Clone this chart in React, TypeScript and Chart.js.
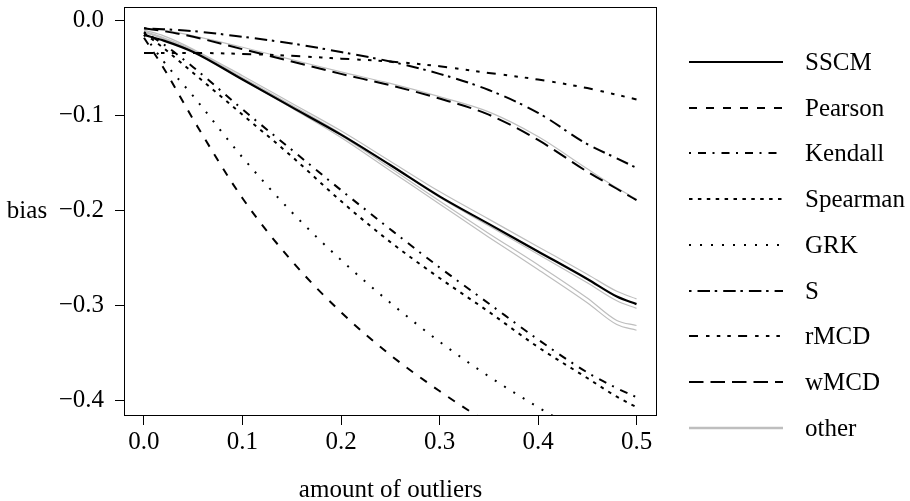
import React, { useEffect, useRef } from "react";
import { Chart, registerables } from "chart.js";

Chart.register(...registerables);

// ---- data ----
const xValues = [0, 0.02, 0.05, 0.1, 0.15, 0.2, 0.25, 0.3, 0.35, 0.4, 0.45, 0.48, 0.5];

const sscm = [-0.015, -0.021, -0.033, -0.062, -0.091, -0.12, -0.152, -0.185, -0.214, -0.243, -0.272, -0.2905, -0.2985];
const pearson = [-0.018, -0.05, -0.104, -0.187, -0.253, -0.307, -0.352, -0.39, -0.424, -0.455, -0.482, -0.497, -0.507];
const kendall = [-0.012, -0.025, -0.049, -0.0934, -0.136, -0.1784, -0.2196, -0.2598, -0.2978, -0.3357, -0.3704, -0.387, -0.3965];
const spearman = [-0.013, -0.029, -0.055, -0.099, -0.143, -0.19, -0.233, -0.271, -0.3065, -0.3437, -0.3763, -0.396, -0.407];
const grk = [-0.015, -0.043, -0.0795, -0.144, -0.2016, -0.252, -0.297, -0.338, -0.3745, -0.407, -0.437, -0.454, -0.465];
const sEst = [-0.008, -0.009, -0.011, -0.017, -0.024, -0.033, -0.043, -0.056, -0.073, -0.097, -0.13, -0.145, -0.155];
const rmcd = [-0.034, -0.034, -0.034, -0.035, -0.037, -0.04, -0.043, -0.048, -0.055, -0.062, -0.071, -0.078, -0.083];
const wmcd = [-0.008, -0.011, -0.017, -0.03, -0.043, -0.056, -0.068, -0.082, -0.099, -0.1256, -0.159, -0.177, -0.189];

const other1 = [-0.01, -0.016, -0.03, -0.058, -0.087, -0.116, -0.148, -0.18, -0.209, -0.238, -0.267, -0.285, -0.293];
const other2 = [-0.011, -0.018, -0.031, -0.06, -0.089, -0.119, -0.152, -0.186, -0.216, -0.246, -0.276, -0.295, -0.303];
const other3 = [-0.012, -0.019, -0.032, -0.061, -0.09, -0.121, -0.155, -0.19, -0.224, -0.257, -0.292, -0.3157, -0.321];
const other4 = [-0.012, -0.019, -0.033, -0.062, -0.092, -0.123, -0.158, -0.193, -0.228, -0.262, -0.297, -0.32, -0.326];
const other5 = [-0.008, -0.01, -0.016, -0.028, -0.041, -0.054, -0.066, -0.08, -0.096, -0.122, -0.156, -0.176, -0.188];

const xTicks = [0, 0.1, 0.2, 0.3, 0.4, 0.5];
const xTickLabels = ["0.0", "0.1", "0.2", "0.3", "0.4", "0.5"];
const yTicks = [0, -0.1, -0.2, -0.3, -0.4];
const yTickLabels = ["0.0", "\u22120.1", "\u22120.2", "\u22120.3", "\u22120.4"];

const xTitle = "amount of outliers";
const yTitle = "bias";

const legendLabels = ["SSCM", "Pearson", "Kendall", "Spearman", "GRK", "S", "rMCD", "wMCD", "other"];

// ---- styles ----
const FONT = "'Liberation Serif', 'DejaVu Serif', serif";
const FONT_SIZE = 25;
const BLACK = "#000000";
const GREY = "#bebebe";

const dashes: Record<string, number[]> = {
  SSCM: [],
  Pearson: [8, 9],
  Kendall: [2, 7, 8, 6.5],
  Spearman: [3.5, 5.4],
  GRK: [2, 9],
  S: [2.5, 6, 12.5, 4.7],
  rMCD: [9, 8, 3.5, 7.3, 3.5, 7, 3.5, 7.3],
  wMCD: [14.5, 7],
  other: [],
};

const pts = (ys: number[]) => xValues.map((x, i) => ({ x, y: ys[i] }));

function mainDs(label: string, ys: number[], width: number) {
  return {
    label,
    data: pts(ys),
    borderColor: BLACK,
    borderWidth: width,
    borderDash: dashes[label],
    borderCapStyle: "butt" as const,
    cubicInterpolationMode: "monotone" as const,
    pointRadius: 0,
    fill: false,
  };
}
function greyDs(ys: number[]) {
  return {
    label: "other",
    data: pts(ys),
    borderColor: GREY,
    borderWidth: 1.2,
    borderDash: [],
    cubicInterpolationMode: "monotone" as const,
    pointRadius: 0,
    fill: false,
  };
}

const decorPlugin = {
  id: "decor",
  afterDraw(chart: any) {
    const { ctx, chartArea: a } = chart;
    ctx.save();
    // box
    ctx.setLineDash([]);
    ctx.strokeStyle = BLACK;
    ctx.lineWidth = 1;
    ctx.strokeRect(a.left + 0.5, a.top + 0.5, a.right - a.left - 1, a.bottom - a.top - 1);
    // y title (horizontal)
    ctx.font = `${FONT_SIZE}px ${FONT}`;
    ctx.fillStyle = BLACK;
    ctx.textAlign = "center";
    ctx.textBaseline = "middle";
    ctx.fillText(yTitle, 27, (a.top + a.bottom) / 2);
    // legend
    const x0 = 689, x1 = 783, tx = 805, y0 = 61.7, dy = 45.8;
    legendLabels.forEach((lab, i) => {
      const y = Math.round(y0 + i * dy);
      ctx.beginPath();
      ctx.setLineDash(dashes[lab]);
      ctx.lineWidth = lab === "other" ? 2.5 : 2.2;
      ctx.strokeStyle = lab === "other" ? GREY : BLACK;
      ctx.moveTo(x0, y);
      ctx.lineTo(x1, y);
      ctx.stroke();
      ctx.setLineDash([]);
      ctx.textAlign = "left";
      ctx.fillStyle = BLACK;
      ctx.fillText(lab, tx, y + 1);
    });
    ctx.restore();
  },
};

export default function App() {
  const ref = useRef<HTMLCanvasElement | null>(null);
  useEffect(() => {
    if (!ref.current) return;
    Chart.defaults.font.family = FONT;
    const chart = new Chart(ref.current, {
      type: "line",
      data: {
        datasets: [
          mainDs("SSCM", sscm, 2.2),
          mainDs("Pearson", pearson, 2),
          mainDs("Kendall", kendall, 2),
          mainDs("Spearman", spearman, 2),
          mainDs("GRK", grk, 2),
          mainDs("S", sEst, 2),
          mainDs("rMCD", rmcd, 2),
          mainDs("wMCD", wmcd, 2),
          greyDs(other1),
          greyDs(other2),
          greyDs(other3),
          greyDs(other4),
          greyDs(other5),
        ] as any,
      },
      options: {
        responsive: false,
        animation: false,
        devicePixelRatio: 1,
        events: [],
        layout: { padding: { left: 0, right: 253, top: 7, bottom: 0 } },
        plugins: { legend: { display: false }, tooltip: { enabled: false } },
        scales: {
          x: {
            type: "linear",
            min: -0.0203,
            max: 0.5208,
            afterFit: (s: any) => {
              s.height = 85;
              s.paddingLeft = 0;
              s.paddingRight = 0;
              s.paddingTop = 0;
              s.paddingBottom = 0;
            },
            afterBuildTicks: (s: any) => {
              s.ticks = xTicks.map((v) => ({ value: v }));
            },
            border: { display: false },
            grid: { drawOnChartArea: false, drawTicks: true, tickLength: 9, color: BLACK, lineWidth: 1 },
            ticks: {
              autoSkip: false,
              maxRotation: 0,
              padding: 2,
              color: BLACK,
              font: { family: FONT, size: FONT_SIZE },
              callback: (v: any) => xTickLabels[xTicks.findIndex((t) => Math.abs(t - v) < 1e-9)],
            },
            title: {
              display: true,
              text: xTitle,
              color: BLACK,
              font: { family: FONT, size: FONT_SIZE, lineHeight: 0.8 },
              padding: { top: 0, bottom: 1 },
            },
          },
          y: {
            type: "linear",
            min: -0.4163,
            max: 0.0144,
            afterFit: (s: any) => {
              s.width = 124;
              s.paddingLeft = 0;
              s.paddingRight = 0;
              s.paddingTop = 0;
              s.paddingBottom = 0;
            },
            afterBuildTicks: (s: any) => {
              s.ticks = yTicks.map((v) => ({ value: v }));
            },
            border: { display: false },
            grid: { drawOnChartArea: false, drawTicks: true, tickLength: 9, color: BLACK, lineWidth: 1 },
            ticks: {
              autoSkip: false,
              padding: 11,
              color: BLACK,
              font: { family: FONT, size: FONT_SIZE },
              callback: (v: any) => yTickLabels[yTicks.findIndex((t) => Math.abs(t - v) < 1e-9)],
            },
          },
        },
      },
      plugins: [decorPlugin],
    });
    return () => chart.destroy();
  }, []);
  return (
    <div style={{ position: "absolute", left: 0, top: 0, width: 910, height: 501, background: "#fff" }}>
      <canvas ref={ref} width={910} height={501} style={{ display: "block" }} />
    </div>
  );
}
